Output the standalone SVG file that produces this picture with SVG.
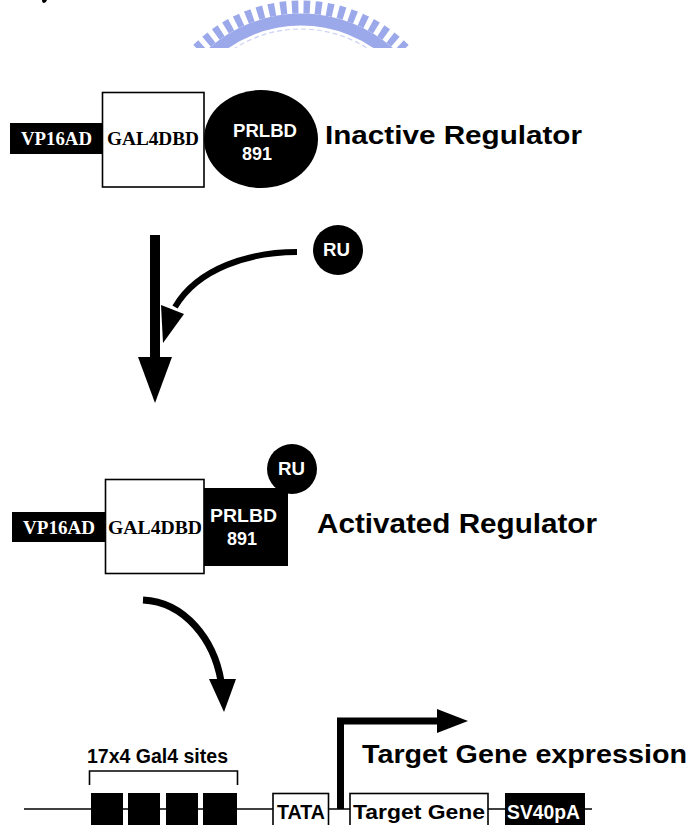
<svg xmlns="http://www.w3.org/2000/svg" width="696" height="825" viewBox="0 0 696 825">
  <style>
    .serif { font-family: "Liberation Serif", "Times New Roman", serif; font-weight: bold; }
    .sans { font-family: "Liberation Sans", Arial, Helvetica, sans-serif; font-weight: bold; }
    .wt { fill: #ffffff; }
    .bk { fill: #000000; }
    .solid { fill: #000000; }
    .open { fill: #ffffff; stroke: #000000; stroke-width: 1.6; }
    .line { fill: none; stroke: #000000; }
    .seal { fill: none; stroke: #9ba8ea; }
  </style>
  <defs>
    <clipPath id="sealClip">
      <rect x="0" y="0" width="696" height="48"/>
    </clipPath>
  </defs>

  <rect width="696" height="825" fill="#ffffff"/>

  <!-- seal watermark along the top edge -->
  <g id="seal" clip-path="url(#sealClip)">
    <circle class="seal" cx="301" cy="153" r="146" stroke-width="13" stroke-dasharray="6.5 5.2"/>
    <circle class="seal" cx="301" cy="153" r="133.5" stroke-width="12"/>
    <circle cx="301" cy="153" r="124" fill="none" stroke="#cdd3f3" stroke-width="1.2" stroke-dasharray="5 3"/>
  </g>

  <!-- fragment at the top-left corner -->
  <path d="M42,0 H47 Q46,3 44,3 Q42,3 42,0 Z" fill="#000000"/>

  <!-- inactive regulator -->
  <g id="inactive-regulator">
    <g id="vp16ad-1">
      <rect class="solid" x="10" y="123" width="93" height="31"/>
      <text class="serif wt" x="21" y="145" font-size="18" textLength="71" lengthAdjust="spacingAndGlyphs">VP16AD</text>
    </g>
    <g id="gal4dbd-1">
      <rect class="open" x="102.5" y="92.5" width="101.5" height="94.5"/>
      <text class="serif bk" x="107" y="145" font-size="18" textLength="92" lengthAdjust="spacingAndGlyphs">GAL4DBD</text>
    </g>
    <g id="prlbd-1">
      <ellipse class="solid" cx="261" cy="139" rx="57" ry="49"/>
      <text class="sans wt" x="233" y="137" font-size="18" textLength="64" lengthAdjust="spacingAndGlyphs">PRLBD</text>
      <text class="sans wt" x="242" y="160" font-size="18" textLength="30" lengthAdjust="spacingAndGlyphs">891</text>
    </g>
    <text id="label-inactive" class="sans bk" x="325" y="144" font-size="26" textLength="257" lengthAdjust="spacingAndGlyphs">Inactive  Regulator</text>
  </g>

  <!-- free ligand -->
  <g id="ru-free">
    <circle class="solid" cx="338" cy="250" r="25"/>
    <text class="sans wt" x="323" y="256" font-size="18" textLength="27" lengthAdjust="spacingAndGlyphs">RU</text>
  </g>

  <!-- activated regulator -->
  <g id="activated-regulator">
    <g id="vp16ad-2">
      <rect class="solid" x="12" y="512" width="94" height="30"/>
      <text class="serif wt" x="23" y="534" font-size="18" textLength="72" lengthAdjust="spacingAndGlyphs">VP16AD</text>
    </g>
    <g id="gal4dbd-2">
      <rect class="open" x="105.5" y="479.5" width="98.5" height="94"/>
      <text class="serif bk" x="108" y="534" font-size="18" textLength="94" lengthAdjust="spacingAndGlyphs">GAL4DBD</text>
    </g>
    <g id="prlbd-2">
      <rect class="solid" x="204" y="488" width="84" height="78"/>
      <text class="sans wt" x="210" y="522" font-size="18" textLength="67" lengthAdjust="spacingAndGlyphs">PRLBD</text>
      <text class="sans wt" x="227" y="545" font-size="18" textLength="30" lengthAdjust="spacingAndGlyphs">891</text>
    </g>
    <g id="ru-bound">
      <circle class="solid" cx="292" cy="469" r="25"/>
      <text class="sans wt" x="278" y="475" font-size="18" textLength="27" lengthAdjust="spacingAndGlyphs">RU</text>
    </g>
    <text id="label-activated" class="sans bk" x="317" y="533" font-size="27" textLength="280" lengthAdjust="spacingAndGlyphs">Activated  Regulator</text>
  </g>

  <!-- reporter construct -->
  <g id="reporter">
    <path class="line" d="M24,809 H592" stroke-width="1.6"/>
    <g id="gal4-sites">
      <text class="sans bk" x="87" y="763" font-size="20" textLength="141" lengthAdjust="spacingAndGlyphs">17x4 Gal4 sites</text>
      <path class="line" d="M89.5,785 V771 H237.5 V785" stroke-width="1.6"/>
      <rect class="solid" x="91" y="793" width="32" height="40"/>
      <rect class="solid" x="128" y="793" width="32" height="40"/>
      <rect class="solid" x="166" y="793" width="32" height="40"/>
      <rect class="solid" x="203" y="793" width="34" height="40"/>
    </g>
    <g id="tata">
      <rect class="open" x="273" y="793.5" width="55.5" height="40"/>
      <text class="sans bk" x="277" y="818.5" font-size="21" textLength="48" lengthAdjust="spacingAndGlyphs">TATA</text>
    </g>
    <g id="target-gene">
      <rect class="open" x="350" y="793.5" width="138" height="40"/>
      <text class="sans bk" x="353" y="818.5" font-size="21" textLength="132" lengthAdjust="spacingAndGlyphs">Target Gene</text>
    </g>
    <g id="sv40pa">
      <rect class="solid" x="505" y="793" width="80" height="40"/>
      <text class="sans wt" x="507" y="818.5" font-size="21" textLength="73" lengthAdjust="spacingAndGlyphs">SV40pA</text>
    </g>
    <text id="label-expression" class="sans bk" x="362" y="763" font-size="25" textLength="325" lengthAdjust="spacingAndGlyphs">Target Gene expression</text>
  </g>

  <!-- arrows -->
  <g id="connectors">
    <rect class="solid" x="150" y="235" width="10" height="124"/>
    <polygon class="solid" points="138,357 172,357 155,403"/>

    <path class="line" d="M297,252 C250,252 198,268 175,307" stroke-width="6"/>
    <polygon class="solid" points="161,305 184,314 163,343"/>

    <path class="line" d="M143,600 C185,602 214,640 221,681" stroke-width="7"/>
    <polygon class="solid" points="209,679 236,679 224,712"/>

    <path class="line" d="M340.5,809 V721 H440" stroke-width="7" stroke-linejoin="miter"/>
    <polygon class="solid" points="437,709 468,721 437,733"/>
  </g>
</svg>
